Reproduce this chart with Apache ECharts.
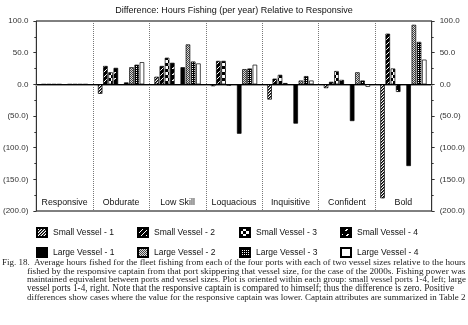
<!DOCTYPE html>
<html><head><meta charset="utf-8">
<script src="https://cdn.jsdelivr.net/npm/echarts@6/dist/echarts.min.js"></script>
<style>html,body{margin:0;padding:0;background:#fff}#c{width:468px;height:325px}</style>
</head><body><div id="c"></div>
<script>
// ---- data ----
const categories = ['Responsive','Obdurate','Low Skill','Loquacious','Inquisitive','Confident','Bold'];
const smallVessel1 = [0,-15,12,-3,-24,-6,-180];
const smallVessel2 = [0,29,29,37,9,4,80];
const smallVessel3 = [0,19,42,37,15,21,25];
const smallVessel4 = [0,26,34,-2,2,7,-12];
const largeVessel1 = [0,3,27,-78,-62,-58,-129];
const largeVessel2 = [0,27,63,24,6,19,94];
const largeVessel3 = [0,31,36,25,13,6,67];
const largeVessel4 = [0,35,33,31,6,-4,39];
const seriesNames = ['Small Vessel - 1','Small Vessel - 2','Small Vessel - 3','Small Vessel - 4',
                     'Large Vessel - 1','Large Vessel - 2','Large Vessel - 3','Large Vessel - 4'];
const yMin = -200, yMax = 100, yStep = 50;
const titleText = 'Difference: Hours Fishing (per year) Relative to Responsive';
const captionLabel = 'Fig. 18.';
const captionLines = [
 'Average hours fished for the fleet fishing from each of the four ports with each of two vessel sizes relative to the hours',
 'fished by the responsive captain from that port skippering that vessel size, for the case of the 2000s. Fishing power was',
 'maintained equivalent between ports and vessel sizes. Plot is oriented within each group: small vessel ports 1-4, left; large',
 'vessel ports 1-4, right. Note that the responsive captain is compared to himself; thus the difference is zero. Positive',
 'differences show cases where the value for the responsive captain was lower. Captain attributes are summarized in Table 2'
];

// ---- patterns ----
function pat(w, h, fn) {
  const c = document.createElement('canvas'); c.width = w; c.height = h;
  const g = c.getContext('2d');
  for (let y = 0; y < h; y++) for (let x = 0; x < w; x++) {
    g.fillStyle = fn(x, y); g.fillRect(x, y, 1, 1);
  }
  return { image: c, repeat: 'repeat' };
}
const fills = [
  pat(3, 3, (x, y) => { const k = (x + y) % 3; return k === 0 ? '#000' : (k === 1 ? '#666' : '#fff'); }),
  pat(5, 5, (x, y) => ((x + y) % 5 === 0 ? '#fff' : '#000')),
  pat(6, 6, (x, y) => ((Math.floor(x / 3) + Math.floor(y / 3)) % 2 === 0 ? '#000' : '#fff')),
  pat(6, 6, (x, y) => (((x + y) % 6 < 2 && y % 6 < 3) ? '#fff' : '#000')),
  '#000',
  pat(2, 2, (x, y) => ((x + y) % 2 === 0 ? '#444' : '#ddd')),
  pat(2, 2, (x, y) => ((x === 0 && y === 0) ? '#fff' : '#000')),
  '#fff'
];
const values = [smallVessel1, smallVessel2, smallVessel3, smallVessel4,
                largeVessel1, largeVessel2, largeVessel3, largeVessel4];

const series = [];
values.forEach((vals, i) => {
  if (i === 4) {
    series.push({ type: 'bar', name: '_gap', data: categories.map(() => '-'), barGap: '15%', barCategoryGap: '18%' });
  }
  const s = {
    type: 'bar', name: seriesNames[i], data: vals,
    barGap: '15%', barCategoryGap: '18%',
    itemStyle: { color: fills[i], borderColor: '#000', borderWidth: 0.7 },
    emphasis: { disabled: true }
  };
  if (i === 0) {
    s.markLine = { silent: true, symbol: 'none', label: { show: false },
      lineStyle: { color: '#000', type: 'solid', width: 1 }, data: [{ yAxis: 0 }] };
  }
  series.push(s);
});

const legendPos = [[36, 227], [137, 227], [239, 227], [340, 227],
                   [36, 247], [137, 247], [239, 247], [340, 247]];
const legends = seriesNames.map((n, i) => ({
  data: [n], left: legendPos[i][0], top: legendPos[i][1], padding: 0,
  icon: 'rect', itemWidth: 10, itemHeight: 9, selectedMode: false,
  textStyle: { fontSize: 8.5, fontFamily: 'Liberation Sans, Arial', color: '#111', padding: [0, 0, 0, 1] }
}));

const fmt = v => v < 0 ? '(' + Math.abs(v).toFixed(1) + ')' : v.toFixed(1);
const yAxisBase = {
  type: 'value', min: yMin, max: yMax, interval: yStep, splitNumber: 6,
  axisLine: { show: true, lineStyle: { color: '#333', width: 1 } },
  axisTick: { show: true, length: 3, lineStyle: { color: '#333' } },
  minorTick: { show: true, splitNumber: 2, length: 2, lineStyle: { color: '#333' } },
  splitLine: { show: false },
  axisLabel: { formatter: fmt, fontSize: 8, fontFamily: 'Liberation Sans, Arial', color: '#333', margin: 8 }
};

// caption: size each line so it fills the text column (reference is justified)
const measureCtx = document.createElement('canvas').getContext('2d');
const serif = '"Liberation Serif", "Times New Roman", serif';
function fitSize(text, target) {
  measureCtx.font = '10px ' + serif;
  const w = measureCtx.measureText(text).width;
  return Math.min(9.3, Math.max(8.6, 10 * target / w));
}
const graphics = [{
  type: 'text', left: 2, top: 258,
  style: { text: captionLabel, font: '9px ' + serif, fill: '#222' }
}];
captionLines.forEach((t, i) => {
  const x0 = i === 0 ? 34 : 27;
  const fs = fitSize(t, 466 - x0);
  graphics.push({
    type: 'text', left: x0, top: 258 + i * 8.7,
    style: { text: t, font: fs.toFixed(2) + 'px ' + serif, fill: '#222' }
  });
});

const chart = echarts.init(document.getElementById('c'), null, { renderer: 'canvas' });
chart.setOption({
  animation: false,
  backgroundColor: '#fff',
  title: { text: titleText, left: 'center', top: 1,
    textStyle: { fontSize: 9, fontWeight: 'normal', fontFamily: 'Liberation Sans, Arial', color: '#111' } },
  legend: legends,
  grid: { left: 35, right: 35, top: 21, bottom: 114, show: true, borderColor: '#000', borderWidth: 1 },
  xAxis: {
    type: 'category', data: categories,
    axisLine: { show: true, lineStyle: { color: '#999', width: 2 } },
    axisTick: { show: false },
    splitLine: { show: true, interval: 0, lineStyle: { color: '#777', type: [1, 1], width: 1 } },
    axisLabel: { inside: true, interval: 0, margin: 4, fontSize: 8.8, fontFamily: 'Liberation Sans, Arial', color: '#111' }
  },
  yAxis: [Object.assign({ position: 'left' }, yAxisBase),
          Object.assign({ position: 'right' }, yAxisBase)],
  series: series,
  graphic: graphics
});
</script></body></html>
